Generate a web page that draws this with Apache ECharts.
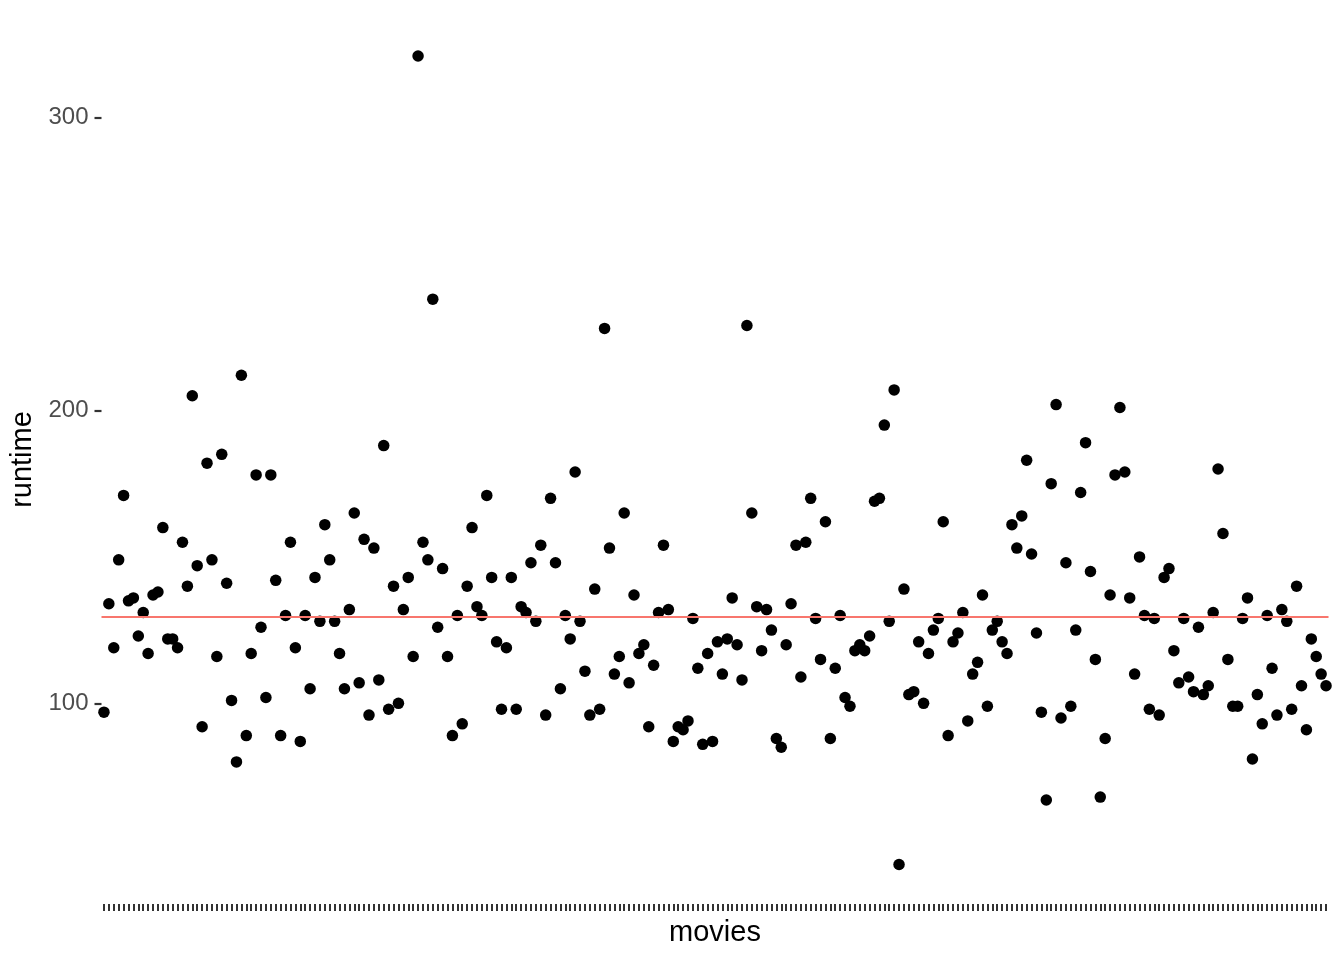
<!DOCTYPE html>
<html>
<head>
<meta charset="utf-8">
<script src="https://cdn.jsdelivr.net/npm/echarts@6/dist/echarts.min.js"></script>
<style>
html,body{margin:0;padding:0;background:#fff;}
#chart{width:1344px;height:960px;}
</style>
</head>
<body>
<div id="chart"></div>
<script>
// runtime (minutes) of each movie, in plotted order
const runtime = [
97,134,119,149,171,135,136,123,131,117,
137,138,160,122,122,119,155,140,205,147,
92,182,149,116,185,141,101,80,212,89,
117,178,126,102,178,142,89,130,155,119,
87,130,105,143,128,161,149,128,117,105,
132,165,107,156,96,153,108,188,98,140,
100,132,143,116,321,155,149,238,126,146,
116,89,130,93,140,160,133,130,171,143,
121,98,119,143,98,133,131,148,128,154,
96,170,148,105,130,122,179,128,111,96,
139,98,228,153,110,116,165,107,137,117,
120,92,113,131,154,132,87,92,91,94,
129,112,86,117,87,121,110,122,136,120,
108,229,165,133,118,132,125,88,85,120,
134,154,109,155,170,129,115,162,88,112,
130,102,99,118,120,118,123,169,170,195,
128,207,45,139,103,104,121,100,117,125,
129,162,89,121,124,131,94,110,114,137,
99,125,128,121,117,161,153,164,183,151,
124,97,67,175,202,95,148,99,125,172,
189,145,115,68,88,137,178,201,179,136,
110,150,130,98,129,96,143,146,118,107,
129,109,104,126,103,106,131,180,158,115,
99,99,129,136,81,103,93,130,112,96,
132,128,98,140,106,91,122,116,110,106
];
// movie identifiers (x categories, labels not shown)
const movies = runtime.map((_, i) => 'movie ' + (i + 1));
// y tick labels
const yTicks = [100, 200, 300];
// reference line (mean runtime)
const meanRuntime = 129.7;

const chart = echarts.init(document.getElementById('chart'), null, {renderer: 'canvas'});
const font = "'Liberation Sans', Arial, Helvetica, sans-serif";
chart.setOption({
  backgroundColor: '#ffffff',
  animation: false,
  grid: {left: 101.5, right: 15.5, top: 15, bottom: 56, containLabel: false},
  xAxis: {
    type: 'category',
    data: movies,
    boundaryGap: true,
    name: 'movies',
    nameLocation: 'middle',
    nameGap: 14,
    nameTextStyle: {color: '#000', fontSize: 29, fontFamily: font, verticalAlign: 'top'},
    axisLine: {show: false},
    axisTick: {show: true, alignWithLabel: true, interval: 0, length: 7, lineStyle: {color: '#333333', width: 2}},
    axisLabel: {show: false},
    splitLine: {show: false}
  },
  yAxis: {
    type: 'value',
    min: 31.5,
    max: 335,
    name: 'runtime',
    nameLocation: 'middle',
    nameRotate: 90,
    nameGap: 59,
    nameTextStyle: {color: '#000', fontSize: 29, fontFamily: font},
    axisLine: {show: false},
    axisTick: {show: true, length: 7, customValues: yTicks, lineStyle: {color: '#333333', width: 2.2}},
    axisLabel: {show: true, customValues: yTicks, margin: 13, color: '#4D4D4D', fontSize: 24, fontFamily: font},
    splitLine: {show: false}
  },
  series: [{
    type: 'scatter',
    data: runtime,
    symbol: 'circle',
    symbolSize: 11.5,
    itemStyle: {color: '#000000', opacity: 1},
    markLine: {
      silent: true,
      symbol: 'none',
      label: {show: false},
      lineStyle: {color: '#F8766D', width: 2.2, type: 'solid'},
      data: [{yAxis: meanRuntime}]
    }
  }]
});
</script>
</body>
</html>
